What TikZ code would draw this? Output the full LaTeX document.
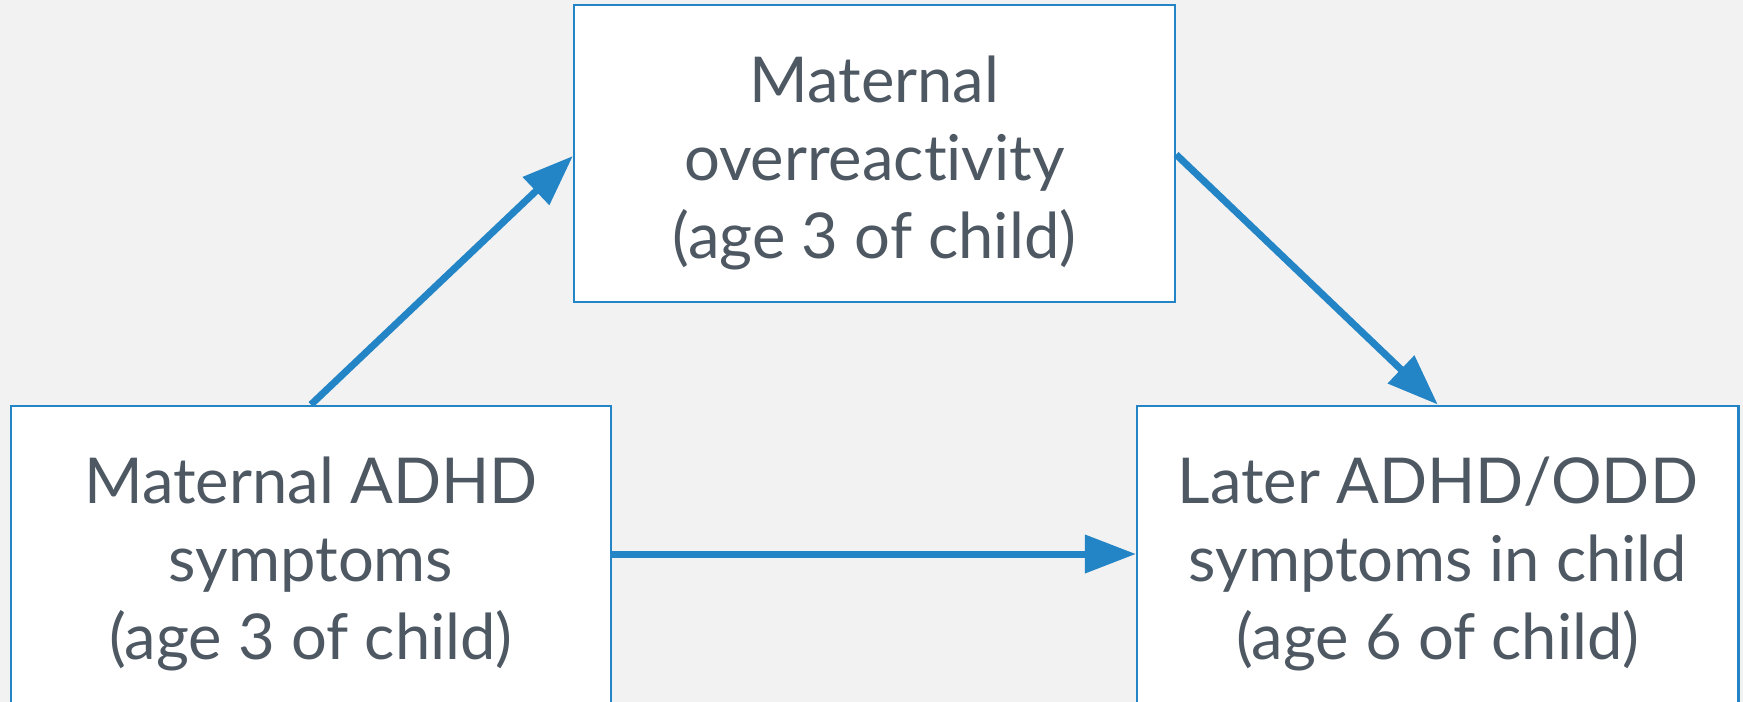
\documentclass[tikz,border=0pt]{standalone}
\usepackage{fontspec}
\setmainfont[Ligatures={NoCommon}]{Lato}
\usetikzlibrary{arrows.meta}
\definecolor{bg}{HTML}{F2F2F2}
\definecolor{edge}{RGB}{35,133,198}
\definecolor{ink}{RGB}{78,88,99}
\tikzset{
  box/.style={draw=edge, line width=2.2bp, fill=white, rectangle, inner sep=0pt},
  lbl/.style={text=ink, align=center, font=\fontsize{63.5}{78}\selectfont, inner sep=0pt, anchor=base},
  conn/.style={draw=edge, line width=7bp, -{Triangle[length=51bp,width=37bp]}}
}
\begin{document}
\begin{tikzpicture}[x=1bp,y=-1bp]
\fill[bg] (0,0) rectangle (1743,702);
\useasboundingbox (0,0) rectangle (1743,702);
\node[box, minimum width=601bp, minimum height=297bp] (top) at (874.5,153.5) {};
\node[box, minimum width=600.5bp, minimum height=330bp] (left) at (311,570.7) {};
\node[box, minimum width=601.5bp, minimum height=330bp] (right) at (1437.8,570.7) {};
\node[lbl] (toptxt) at (874.5,258) {Maternal\\overreactivity\\(age 3 of child)};
\node[lbl] (lefttxt) at (311,659) {Maternal ADHD\\symptoms\\(age 3 of child)};
\node[lbl] (righttxt) at (1437.8,659) {Later ADHD/ODD\\symptoms in child\\(age 6 of child)};
\draw[conn] (left.north) -- (top.west |- 0,156);
\draw[conn] (top.east |- 0,154.5) -- (right.north);
\draw[conn] (left.east |- 0,554) -- (right.west |- 0,554);
\end{tikzpicture}
\end{document}
